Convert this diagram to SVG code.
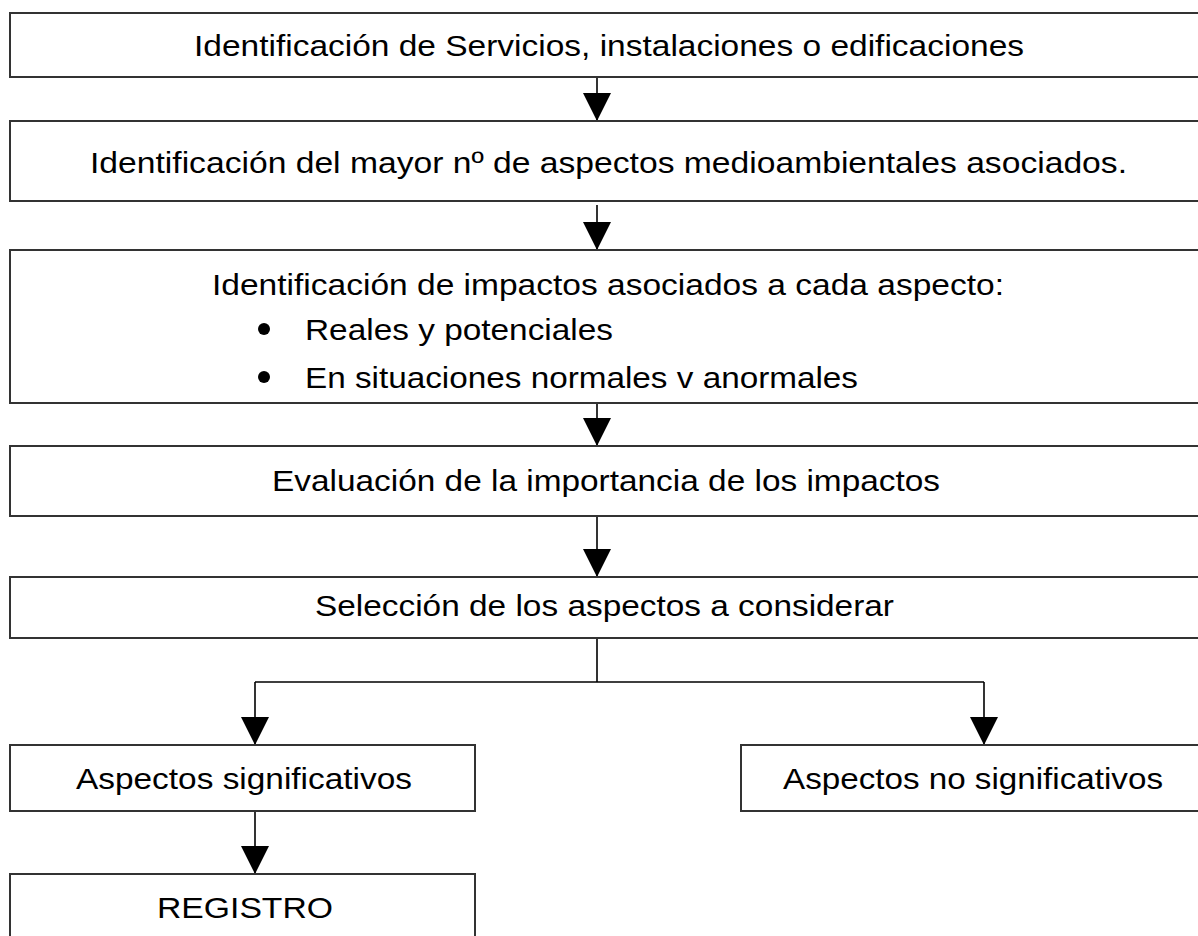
<svg xmlns="http://www.w3.org/2000/svg" width="1198" height="936" viewBox="0 0 1198 936">
  <defs>
    <marker id="ah" viewBox="0 0 28 28" markerWidth="28" markerHeight="28" refX="28" refY="14" orient="auto" markerUnits="userSpaceOnUse">
      <path d="M0,0 L28,14 L0,28 Z" fill="#000"/>
    </marker>
  </defs>
  <style>
    .box { fill: #fff; stroke: #333; stroke-width: 2; }
    .t { font-family: "Liberation Sans", Arial, sans-serif; font-size: 30px; fill: #000; }
    .c { fill: none; stroke: #000; stroke-width: 1.6; }
  </style>
  <rect x="0" y="0" width="1198" height="936" fill="#fff"/>

  <g id="connectors">
    <path class="c" d="M597,77 L597,121" marker-end="url(#ah)"/>
    <path class="c" d="M597,205 L597,250" marker-end="url(#ah)"/>
    <path class="c" d="M597,403 L597,446" marker-end="url(#ah)"/>
    <path class="c" d="M597,508 L597,577" marker-end="url(#ah)"/>
    <path class="c" d="M597,638 L597,682 M255,682 L984,682"/>
    <path class="c" d="M255,682 L255,745" marker-end="url(#ah)"/>
    <path class="c" d="M984,682 L984,745" marker-end="url(#ah)"/>
    <path class="c" d="M255,811 L255,874" marker-end="url(#ah)"/>
  </g>

  <g id="n1">
    <rect class="box" x="10" y="13" width="1200" height="64"/>
    <text class="t" x="194" y="56" textLength="830" lengthAdjust="spacingAndGlyphs">Identificación de Servicios, instalaciones o edificaciones</text>
  </g>
  <g id="n2">
    <rect class="box" x="10" y="121" width="1200" height="80"/>
    <text class="t" x="90" y="173" textLength="1037" lengthAdjust="spacingAndGlyphs">Identificación del mayor nº de aspectos medioambientales asociados.</text>
  </g>
  <g id="n3">
    <rect class="box" x="10" y="250" width="1200" height="153"/>
    <text class="t" x="212" y="295" textLength="792" lengthAdjust="spacingAndGlyphs">Identificación de impactos asociados a cada aspecto:</text>
    <circle cx="264" cy="329" r="6" fill="#000"/>
    <text class="t" x="305" y="340" textLength="308" lengthAdjust="spacingAndGlyphs">Reales y potenciales</text>
    <circle cx="264" cy="377" r="6" fill="#000"/>
    <text class="t" x="305" y="388" textLength="553" lengthAdjust="spacingAndGlyphs">En situaciones normales v anormales</text>
  </g>
  <g id="n4">
    <rect class="box" x="10" y="446" width="1200" height="70"/>
    <text class="t" x="272" y="491" textLength="668" lengthAdjust="spacingAndGlyphs">Evaluación de la importancia de los impactos</text>
  </g>
  <g id="n5">
    <rect class="box" x="10" y="577" width="1200" height="61"/>
    <text class="t" x="315" y="616" textLength="579" lengthAdjust="spacingAndGlyphs">Selección de los aspectos a considerar</text>
  </g>
  <g id="n6">
    <rect class="box" x="10" y="745" width="465" height="66"/>
    <text class="t" x="76" y="789" textLength="336" lengthAdjust="spacingAndGlyphs">Aspectos significativos</text>
  </g>
  <g id="n7">
    <rect class="box" x="741" y="745" width="470" height="66"/>
    <text class="t" x="783" y="789" textLength="380" lengthAdjust="spacingAndGlyphs">Aspectos no significativos</text>
  </g>
  <g id="n8">
    <rect class="box" x="10" y="874" width="465" height="80"/>
    <text class="t" x="157" y="918" textLength="176" lengthAdjust="spacingAndGlyphs">REGISTRO</text>
  </g>
</svg>
